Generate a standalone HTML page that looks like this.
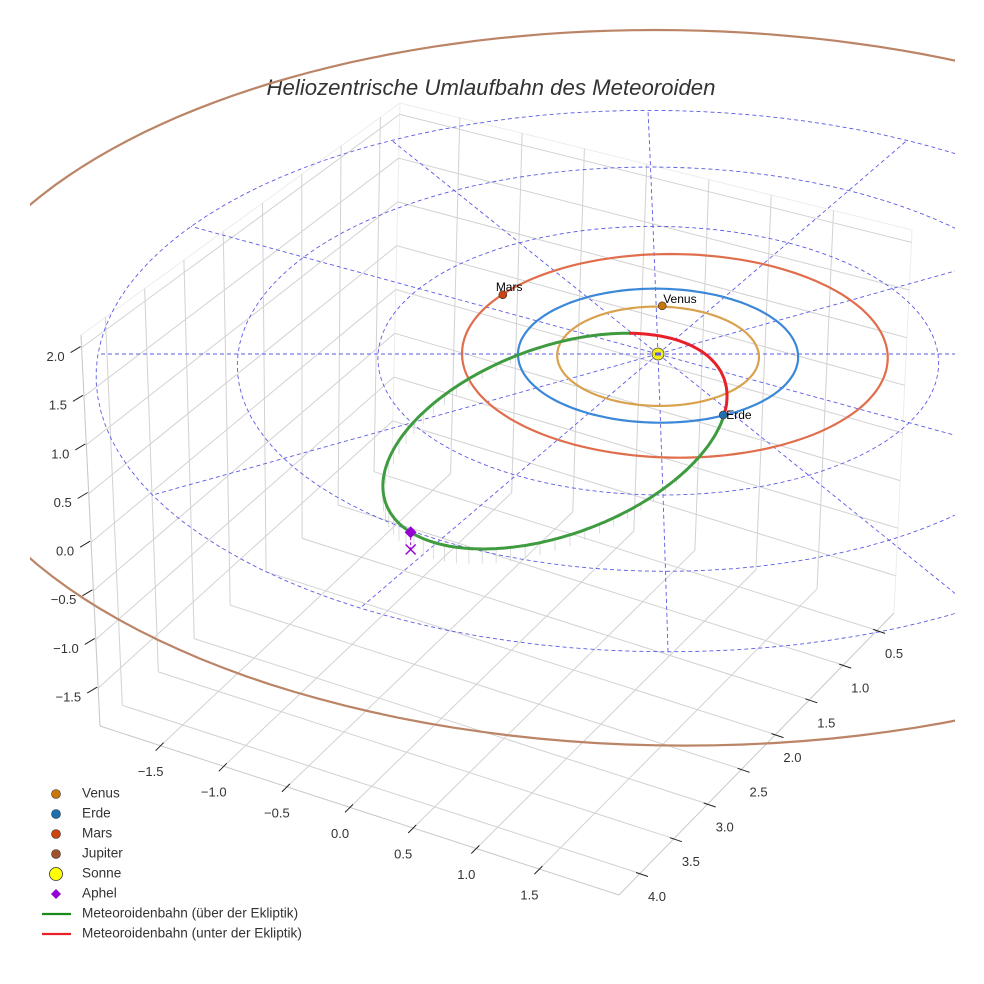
<!DOCTYPE html>
<html><head><meta charset="utf-8">
<style>
html,body{margin:0;padding:0;background:#fff;}
svg{display:block;font-family:"Liberation Sans",sans-serif;}
</style></head>
<body>
<svg id="chart" width="984" height="984" viewBox="0 0 984 984" xmlns="http://www.w3.org/2000/svg">
<defs><clipPath id="clipAx"><rect x="30" y="0" width="925" height="984"/></clipPath></defs>
<text x="491" y="95" text-anchor="middle" font-size="22.2" font-style="italic" fill="#333">Heliozentrische Umlaufbahn des Meteoroiden</text>
<g id="grid"></g>
<g id="ecl" clip-path="url(#clipAx)"></g>
<g id="orbits" clip-path="url(#clipAx)"></g>
<g id="meteor"></g>
<g id="marks"></g>
<g id="ticks"></g>
<g id="legend"></g>
</svg>
<script>
// ---- data ----
const xTicks = [-1.5,-1.0,-0.5,0.0,0.5,1.0,1.5];
const yTicks = [0.5,1.0,1.5,2.0,2.5,3.0,3.5,4.0];
const zTicks = [-1.5,-1.0,-0.5,0.0,0.5,1.0,1.5,2.0];
const orbitNames = ["Venus","Erde","Mars","Jupiter"];
const orbitRx = [0.72,1.0,1.52,5.25];
const orbitRy = [0.74,1.0,1.52,5.3];
const orbitCu = [0.0,0.0,0.12,0.09];
const orbitCv = [0.02,0.0,-0.03,-0.2];
const orbitColors = ["#d9a24e","#3b88d8","#e06e4c","#bb8466"];
const planetNames = ["Venus","Erde","Mars"];
const planetU = [0.044,0.44,-1.117];
const planetV = [-0.732,0.89,-0.904];
const planetColors = ["#c8780a","#1f6fb0","#cc4410"];
const gridRadii = [1,2,3,4];
const gridAngles = [0,30,60,90,120,150,180,210,240,270,300,330];
const meteorCenter = [-0.736,1.30];
const meteorU = [1.229,-0.672];
const meteorV = [0.0,1.463];
const meteorZAmp = 0.1;
const meteorZPhase = 154.5;
const meteorZOffset = 0.793;
const aphelAnomaly = 147;

// ---- projection ----
const NS="http://www.w3.org/2000/svg";
const xr=[-1.98,2.13], yr=[0.25,4.31], zr=[-1.89,2.13];
const C={B:[392,455],R:[894,613],L:[100,726],F:[619,895],TB:[400,103],TR:[912,230],TL:[81,335]};
C.TF=[C.TL[0]+C.TR[0]-C.TB[0], C.TL[1]+C.TR[1]-C.TB[1]];
function bil(a,b,c,d,s,t){
  return [a[0]*(1-s)*(1-t)+b[0]*s*(1-t)+c[0]*(1-s)*t+d[0]*s*t,
          a[1]*(1-s)*(1-t)+b[1]*s*(1-t)+c[1]*(1-s)*t+d[1]*s*t];}
function P3(x,y,z){
  const s=(x-xr[0])/(xr[1]-xr[0]), t=(y-yr[0])/(yr[1]-yr[0]), w=(z-zr[0])/(zr[1]-zr[0]);
  const f=bil(C.B,C.R,C.L,C.F,s,t), h=bil(C.TB,C.TR,C.TL,C.TF,s,t);
  return [f[0]+(h[0]-f[0])*w, f[1]+(h[1]-f[1])*w];}
function plane(u,v){const f=1/(1-0.025*v);return [658+140*u*f+2.5*v,354+67*v*f];}
function flat(u,v){return [658+140*u,354+67*v];}
const ZPX=97;
function el(tag,attrs,parent){const e=document.createElementNS(NS,tag);for(const k in attrs)e.setAttribute(k,attrs[k]);parent.appendChild(e);return e;}
function line(p,q,st,parent){return el('line',Object.assign({x1:p[0].toFixed(1),y1:p[1].toFixed(1),x2:q[0].toFixed(1),y2:q[1].toFixed(1)},st),parent);}
function pathFrom(pts){return pts.map((p,i)=>(i?'L':'M')+p[0].toFixed(1)+' '+p[1].toFixed(1)).join(' ');}

// ---- box grid ----
const G=document.getElementById('grid');
const gs={stroke:'#d2d2d2','stroke-width':1};
const es={stroke:'#ececec','stroke-width':1};
line(P3(xr[0],yr[0],zr[1]),P3(xr[1],yr[0],zr[1]),es,G);
line(P3(xr[0],yr[0],zr[1]),P3(xr[0],yr[1],zr[1]),es,G);
line(P3(xr[1],yr[0],zr[0]),P3(xr[1],yr[0],zr[1]),es,G);
line(P3(xr[0],yr[1],zr[0]),P3(xr[0],yr[1],zr[1]),es,G);
line(P3(xr[0],yr[0],zr[0]),P3(xr[0],yr[0],zr[1]),es,G);
for(const x of xTicks){
  let e=line(P3(x,yr[0],zr[0]),P3(x,yr[1],zr[0]),gs,G);
  
  
  e=line(P3(x,yr[0],zr[0]),P3(x,yr[0],zr[1]),gs,G);
  
  
}
for(const y of yTicks){
  let e=line(P3(xr[0],y,zr[0]),P3(xr[1],y,zr[0]),gs,G);
  
  
  e=line(P3(xr[0],y,zr[0]),P3(xr[0],y,zr[1]),gs,G);
  
  
}
for(const z of zTicks){
  let e=line(P3(xr[0],yr[0],z),P3(xr[1],yr[0],z),gs,G);
  
  
  e=line(P3(xr[0],yr[0],z),P3(xr[0],yr[1],z),gs,G);
  
  
}
const axs={stroke:'#c8c8c8','stroke-width':1};
line(P3(xr[0],yr[1],zr[0]),P3(xr[1],yr[1],zr[0]),axs,G);
line(P3(xr[1],yr[1],zr[0]),P3(xr[1],yr[0],zr[0]),axs,G);
line(P3(xr[0],yr[1],zr[0]),P3(xr[0],yr[1],zr[1]),axs,G);

// ---- ecliptic grid ----
const E=document.getElementById('ecl');
const ds={fill:'none',stroke:'#5b5be6','stroke-width':0.9,'stroke-dasharray':'4 3'};
for(const r of gridRadii){
  const pts=[];for(let a=0;a<=360;a+=3){const t=a*Math.PI/180;pts.push(plane(r*Math.cos(t),r*Math.sin(t)));}
  const e=el('path',Object.assign({d:pathFrom(pts)},ds),E);
  
  
}
const rMax=gridRadii[gridRadii.length-1];
for(const a of gridAngles){
  const t=a*Math.PI/180;const pts=[];
  for(let k=0;k<=20;k++){const r=rMax*k/20;pts.push(plane(r*Math.cos(t),r*Math.sin(t)));}
  const e=el('path',Object.assign({d:pathFrom(pts)},ds),E);
  
  
}

// ---- planet orbits ----
const O=document.getElementById('orbits');
orbitNames.forEach((n,i)=>{
  const pts=[];for(let a=0;a<=360;a+=2){const t=a*Math.PI/180;pts.push(plane(orbitCu[i]+orbitRx[i]*Math.cos(t),orbitCv[i]+orbitRy[i]*Math.sin(t)));}
  const e=el('path',{d:pathFrom(pts),fill:'none',stroke:orbitColors[i],'stroke-width':2.2},O);
  
  
});

// ---- meteoroid ----
const M=document.getElementById('meteor');
function mPoint(deg){const t=deg*Math.PI/180;
  return flat(meteorCenter[0]+meteorU[0]*Math.cos(t)+meteorV[0]*Math.sin(t),
              meteorCenter[1]+meteorU[1]*Math.cos(t)+meteorV[1]*Math.sin(t));}
function mZ(deg){return meteorZAmp*(Math.cos((deg-meteorZPhase)*Math.PI/180)+meteorZOffset);}
for(let d=0;d<360;d+=5){
  const z=mZ(d);if(z<=0.005)continue;const p=mPoint(d);
  const e=line(p,[p[0],p[1]+z*ZPX],{stroke:'#cfcfcf','stroke-width':0.7},M);
  
  
}
let seg=[],segs=[],cur=null;
for(let d=0;d<=360;d+=1){const above=mZ(d)>=0;
  if(cur===null||above!==cur){if(seg.length)segs.push([cur,seg]);seg=seg.length?[seg[seg.length-1]]:[];cur=above;}
  seg.push(mPoint(d));}
segs.push([cur,seg]);
for(const [ab,pts] of segs){
  const e=el('path',{d:pathFrom(pts),fill:'none',stroke:ab?'#3f9b3f':'#e8202a','stroke-width':3,'stroke-linecap':'round'},M);
  
  
}

// ---- markers ----
const K=document.getElementById('marks');
const ap=mPoint(aphelAnomaly), apz=mZ(aphelAnomaly)*ZPX;
let e=line(ap,[ap[0],ap[1]+apz],{stroke:'#9400d3','stroke-width':1,'stroke-dasharray':'3 2'},K);


const cx=ap[0],cy=ap[1]+apz;
e=el('path',{d:`M${cx-5} ${cy-5}L${cx+5} ${cy+5}M${cx-5} ${cy+5}L${cx+5} ${cy-5}`,stroke:'#9400d3','stroke-width':1.4},K);


e=el('path',{d:`M${ap[0]} ${ap[1]-6}L${ap[0]+6} ${ap[1]}L${ap[0]} ${ap[1]+6}L${ap[0]-6} ${ap[1]}Z`,fill:'#9400d3'},K);


const labDx=[1,3,-7], labDy=[-3,4,-4];
planetNames.forEach((n,i)=>{
  const p=plane(planetU[i],planetV[i]);
  let c=el('circle',{cx:p[0],cy:p[1],r:4,fill:planetColors[i],stroke:'#333','stroke-width':0.6},K);
  
  
  let t=el('text',{x:p[0]+labDx[i],y:p[1]+labDy[i],'font-size':12,fill:'#000'},K);
  t.textContent=n;
  
  
});
const sp=plane(0,0);
e=el('circle',{cx:sp[0],cy:sp[1],r:6,fill:'#f4ee1a',stroke:'#444','stroke-width':0.8},K);


el('rect',{x:sp[0]-3,y:sp[1]-1.5,width:6,height:3,fill:'#5b5be6'},K);

// ---- ticks ----
const T=document.getElementById('ticks');
const tk={stroke:'#222','stroke-width':1};
function lab(txt,x,y,anchor,name){const t=el('text',{x:x,y:y,'font-size':13,fill:'#333','text-anchor':anchor,'dominant-baseline':'middle'},T);t.textContent=txt;
  
  }
const fmt=v=>(v<0?'\u2212':'')+Math.abs(v).toFixed(1);
for(const x of xTicks){const p=P3(x,yr[1],zr[0]);line([p[0]+3,p[1]-3],[p[0]-5,p[1]+5],tk,T);lab(fmt(x),p[0]-10,p[1]+27,'middle','x-tick-label');}
for(const y of yTicks){const p=P3(xr[1],y,zr[0]);line([p[0]-4,p[1]-1],[p[0]+8,p[1]+3],tk,T);lab(fmt(y),p[0]+17,p[1]+24,'middle','y-tick-label');}
for(const z of zTicks){const p=P3(xr[0],yr[1],z);line([p[0]-11,p[1]+5],[p[0]-1,p[1]-1],tk,T);lab(fmt(z),p[0]-17,p[1]+10,'end','z-tick-label');}

// ---- legend ----
const Lg=document.getElementById('legend');
const legNames=["Venus","Erde","Mars","Jupiter","Sonne","Aphel","Meteoroidenbahn (über der Ekliptik)","Meteoroidenbahn (unter der Ekliptik)"];
const legColors=["#c8780a","#1f6fb0","#cc4410","#a0522d","#ffff00","#9400d3","#1a8a1a","#e8202a"];
legNames.forEach((n,i)=>{
  const y=794+i*20;let m;
  if(i<4)m=el('circle',{cx:56,cy:y,r:4.5,fill:legColors[i],stroke:'#333','stroke-width':0.6},Lg);
  else if(i===4)m=el('circle',{cx:56,cy:y,r:6.5,fill:legColors[i],stroke:'#333','stroke-width':0.8},Lg);
  else if(i===5)m=el('path',{d:`M56 ${y-5}L61 ${y}L56 ${y+5}L51 ${y}Z`,fill:legColors[i]},Lg);
  else m=el('line',{x1:42,y1:y,x2:71,y2:y,stroke:legColors[i],'stroke-width':2.2},Lg);
  
  
  const t=el('text',{x:82,y:y,'font-size':13.6,fill:'#333','dominant-baseline':'middle'},Lg);t.textContent=n;
  
  
});
</script>
</body></html>
